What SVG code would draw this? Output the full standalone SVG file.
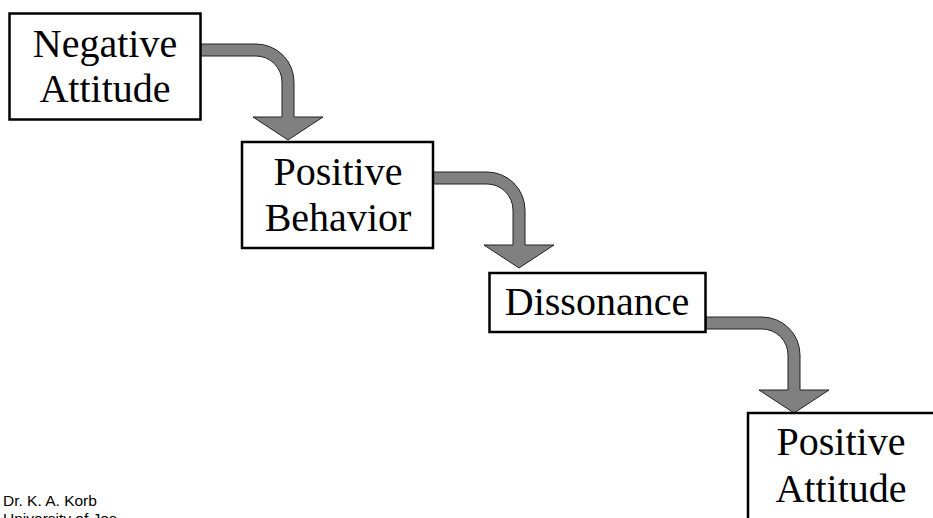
<svg xmlns="http://www.w3.org/2000/svg" width="933" height="518" viewBox="0 0 933 518">
  <style>
    .box { fill: #ffffff; stroke: #000000; stroke-width: 2.5; }
    .lbl { font-family: "Liberation Serif", "Times New Roman", serif; font-size: 40px; fill: #000000; text-anchor: middle; }
    .foot { font-family: "Liberation Sans", Arial, sans-serif; font-size: 15.5px; fill: #000000; }
    .arrow { fill: #808080; stroke: #222222; stroke-width: 1; stroke-linejoin: miter; }
  </style>
  <defs>
    <path id="bent-arrow" d="M -88,0 H -32 A 38 38 0 0 1 6 38 V 73 H 35 L 0 96 L -35 73 H -6 V 38 A 26 26 0 0 0 -32 12 H -88 Z"/>
  </defs>
  <rect width="933" height="518" fill="#ffffff"/>
  <g id="connectors">
    <use href="#bent-arrow" class="arrow" transform="translate(288,44)"/>
    <use href="#bent-arrow" class="arrow" transform="translate(519,172)"/>
    <use href="#bent-arrow" class="arrow" transform="translate(794,317)"/>
  </g>
  <g id="negative-attitude">
    <rect class="box" x="9.5" y="13.5" width="191" height="106"/>
    <text class="lbl" x="105" y="57">Negative</text>
    <text class="lbl" x="105" y="102">Attitude</text>
  </g>
  <g id="positive-behavior">
    <rect class="box" x="242" y="142" width="191" height="106"/>
    <text class="lbl" x="338" y="185">Positive</text>
    <text class="lbl" x="338" y="231">Behavior</text>
  </g>
  <g id="dissonance">
    <rect class="box" x="489.5" y="273" width="216" height="59"/>
    <text class="lbl" x="597" y="315">Dissonance</text>
  </g>
  <g id="positive-attitude">
    <rect class="box" x="748" y="413" width="200" height="120"/>
    <text class="lbl" x="841" y="455">Positive</text>
    <text class="lbl" x="841" y="502">Attitude</text>
  </g>
  <g id="footer">
    <text class="foot" x="3" y="506">Dr. K. A. Korb</text>
    <text class="foot" x="3" y="524">University of Jos</text>
  </g>
</svg>
